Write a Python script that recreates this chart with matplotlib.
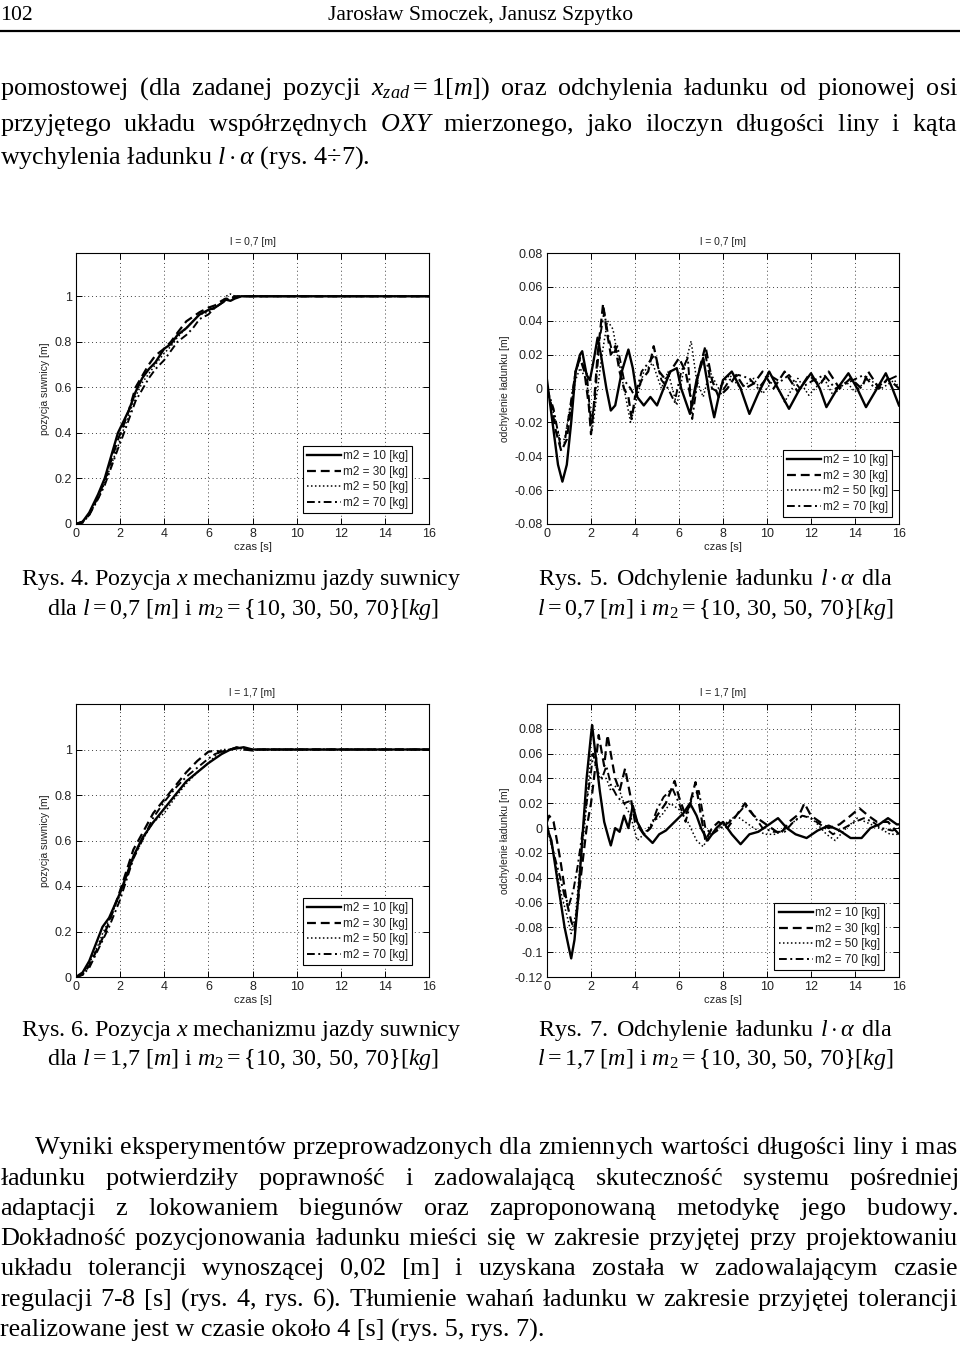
import matplotlib
matplotlib.use('Agg')
import matplotlib.pyplot as plt
from matplotlib.lines import Line2D
from matplotlib.ticker import FuncFormatter

# page size in pixels
W, H = 960, 1345

plt.rcParams['font.family'] = 'Liberation Serif'
plt.rcParams['mathtext.fontset'] = 'custom'
plt.rcParams['mathtext.rm'] = 'Liberation Serif'
plt.rcParams['mathtext.it'] = 'Liberation Serif:italic'
plt.rcParams['mathtext.bf'] = 'Liberation Serif:bold'

LABELS = ['m2 = 10 [kg]', 'm2 = 30 [kg]', 'm2 = 50 [kg]', 'm2 = 70 [kg]']

# --- Rys. 4: pozycja suwnicy, l = 0,7 m ---
T4 = [0, 0.3, 0.6, 1.0, 1.3, 1.6, 1.9, 2.1, 2.4, 2.7, 3.0, 3.3, 3.6, 4.0,
      4.3, 4.6, 5.0, 5.3, 5.6, 6.0, 6.3, 6.6, 6.8, 7.0, 7.2, 7.5, 8.0, 16]
X4_M10 = [0, 0.01, 0.05, 0.13, 0.20, 0.30, 0.40, 0.44, 0.50, 0.58, 0.64, 0.68, 0.71, 0.77,
          0.79, 0.83, 0.86, 0.89, 0.92, 0.94, 0.95, 0.97, 0.985, 0.98, 0.99, 1.0, 1.0, 1.0]
X4_M30 = [0, 0.01, 0.04, 0.12, 0.19, 0.28, 0.37, 0.42, 0.50, 0.60, 0.65, 0.70, 0.74, 0.77,
          0.80, 0.84, 0.89, 0.91, 0.93, 0.95, 0.96, 0.98, 0.99, 0.985, 1.0, 1.0, 1.0, 1.0]
X4_M50 = [0, 0.01, 0.04, 0.11, 0.18, 0.26, 0.34, 0.40, 0.48, 0.56, 0.62, 0.66, 0.70, 0.75,
          0.78, 0.82, 0.86, 0.89, 0.92, 0.93, 0.95, 0.97, 1.0, 1.01, 1.0, 1.0, 1.0, 1.0]
X4_M70 = [0, 0.005, 0.04, 0.11, 0.17, 0.25, 0.33, 0.38, 0.46, 0.54, 0.59, 0.64, 0.68, 0.72,
          0.76, 0.80, 0.83, 0.86, 0.90, 0.92, 0.95, 0.97, 0.98, 0.99, 0.995, 1.0, 1.0, 1.0]

# --- Rys. 6: pozycja suwnicy, l = 1,7 m ---
T6 = [0, 0.3, 0.6, 1.0, 1.2, 1.5, 2.0, 2.3, 2.6, 3.0, 3.5, 4.0, 4.5, 5.0,
      5.5, 6.0, 6.3, 6.6, 7.0, 7.3, 7.6, 8.0, 8.3, 16]
X6_M10 = [0, 0.02, 0.07, 0.17, 0.22, 0.26, 0.37, 0.45, 0.53, 0.61, 0.68, 0.74, 0.80, 0.86,
          0.90, 0.94, 0.96, 0.98, 1.0, 1.005, 1.01, 1.0, 1.0, 1.0]
X6_M30 = [0, 0.01, 0.05, 0.13, 0.17, 0.24, 0.38, 0.47, 0.56, 0.63, 0.72, 0.78, 0.84, 0.90,
          0.95, 0.99, 0.995, 0.99, 1.0, 1.01, 1.0, 1.0, 1.0, 1.0]
X6_M50 = [0, 0.01, 0.06, 0.14, 0.19, 0.25, 0.36, 0.44, 0.52, 0.60, 0.68, 0.72, 0.79, 0.85,
          0.90, 0.94, 0.97, 1.0, 1.0, 1.01, 1.005, 1.0, 1.0, 1.0]
X6_M70 = [0, 0.01, 0.04, 0.12, 0.16, 0.22, 0.34, 0.43, 0.52, 0.60, 0.70, 0.77, 0.83, 0.88,
          0.92, 0.96, 0.98, 0.99, 1.0, 1.01, 1.0, 0.995, 1.0, 1.0]

# --- Rys. 5: odchylenie ladunku, l = 0,7 m ---
T5_M10 = [0.0, 0.1, 0.3, 0.5, 0.7, 0.9, 1.1, 1.3, 1.5, 1.6, 1.8, 1.95, 2.1, 2.3, 2.45, 2.7,
          2.9, 3.1, 3.4, 3.7, 3.9, 4.1, 4.4, 4.7, 5.0, 5.3, 5.6, 5.9, 6.1, 6.5, 6.8, 7.1,
          7.4, 7.6, 7.8, 8.0, 8.4, 8.8, 9.2, 9.6, 10.1, 10.5, 11.0, 11.5, 12.0, 12.4, 12.7,
          13.2, 13.7, 14.1, 14.5, 15.0, 15.4, 15.7, 16.0]
A5_M10 = [0.005, -0.005, -0.025, -0.045, -0.055, -0.045, -0.02, 0.01, 0.02, 0.022, 0.008,
          0.005, 0.015, 0.03, 0.02, 0.0, -0.013, -0.01, 0.01, 0.023, 0.012, -0.005, -0.01,
          -0.005, -0.01, 0.0, 0.01, 0.012, 0.0, -0.015, 0.005, 0.018, -0.005, -0.017,
          -0.005, 0.005, 0.01, 0.0, -0.015, -0.003, 0.01, 0.0, -0.012, 0.0, 0.009, 0.0,
          -0.011, 0.0, 0.009, 0.0, -0.011, 0.0, 0.009, 0.0, -0.01]
T5_M30 = [0.0, 0.2, 0.4, 0.65, 0.9, 1.1, 1.3, 1.5, 1.7, 1.9, 2.0, 2.1, 2.3, 2.55, 2.7, 2.9,
          3.1, 3.3, 3.5, 3.7, 3.85, 4.0, 4.3, 4.6, 4.85, 5.1, 5.4, 5.7, 6.0, 6.3, 6.6, 6.9,
          7.2, 7.5, 7.8, 8.2, 8.6, 9.0, 9.4, 9.8, 10.3, 10.8, 11.4, 11.9, 12.4, 12.8, 13.3,
          13.8, 14.3, 14.6, 15.1, 15.5, 16.0]
A5_M30 = [0.0, -0.01, -0.025, -0.037, -0.03, -0.01, 0.01, 0.018, 0.01, -0.01, -0.027,
          -0.015, 0.02, 0.05, 0.035, 0.02, 0.025, 0.01, 0.0, -0.005, -0.018, -0.005, 0.005,
          0.01, 0.025, 0.01, 0.005, 0.012, 0.018, 0.01, -0.01, 0.01, 0.025, 0.005, -0.005,
          0.0, 0.008, 0.0, 0.003, 0.01, 0.0, 0.01, -0.002, 0.008, 0.002, 0.01, 0.0, 0.006,
          0.0, 0.01, 0.0, 0.006, 0.0]
T5_M50 = [0.0, 0.3, 0.6, 0.8, 1.0, 1.3, 1.5, 1.8, 2.05, 2.2, 2.5, 2.75, 3.0, 3.2, 3.5, 3.8,
          4.0, 4.4, 4.8, 5.2, 5.5, 5.9, 6.2, 6.55, 6.8, 7.1, 7.4, 7.8, 8.3, 8.8, 9.4, 9.8,
          10.3, 10.8, 11.4, 11.9, 12.6, 13.0, 13.6, 14.0, 14.6, 15.2, 15.8, 16.0]
A5_M50 = [0.0, -0.015, -0.03, -0.03, -0.015, 0.005, 0.012, 0.005, -0.025, -0.01, 0.02,
          0.04, 0.035, 0.02, 0.0, -0.02, -0.01, 0.01, 0.015, 0.0, 0.01, -0.01, 0.01, 0.028,
          0.005, -0.005, 0.01, 0.0, 0.008, 0.0, 0.006, -0.003, 0.005, -0.008, 0.006, -0.004,
          0.006, -0.004, 0.004, -0.002, 0.006, 0.0, 0.005, 0.0]
T5_M70 = [0.0, 0.3, 0.6, 0.8, 1.0, 1.3, 1.5, 1.8, 2.0, 2.15, 2.4, 2.6, 2.8, 3.0, 3.2, 3.5,
          3.8, 4.0, 4.3, 4.6, 4.9, 5.2, 5.5, 5.8, 6.1, 6.4, 6.6, 6.9, 7.2, 7.5, 7.9, 8.3,
          8.7, 9.2, 9.6, 10.1, 10.6, 11.0, 11.5, 12.0, 12.6, 13.1, 13.6, 14.4, 14.9, 15.5, 16.0]
A5_M70 = [0.0, -0.012, -0.033, -0.032, -0.015, 0.01, 0.017, 0.01, -0.02, -0.01, 0.03,
          0.045, 0.03, 0.02, 0.025, 0.005, 0.0, -0.005, 0.01, 0.015, 0.02, 0.005, 0.0,
          -0.008, 0.01, 0.018, -0.018, 0.01, 0.02, 0.0, -0.003, 0.005, 0.008, 0.006, 0.0,
          0.008, 0.004, 0.008, 0.0, 0.004, 0.008, 0.0, 0.003, 0.008, 0.0, 0.005, 0.008]

# --- Rys. 7: odchylenie ladunku, l = 1,7 m ---
T7_M10 = [0.0, 0.2, 0.5, 0.8, 1.0, 1.1, 1.25, 1.4, 1.6, 1.8, 2.0, 2.05, 2.2, 2.4, 2.6, 2.8,
          2.9, 3.1, 3.3, 3.5, 3.7, 3.9, 4.1, 4.4, 4.8, 5.1, 5.4, 5.8, 6.2, 6.5, 6.8, 7.0,
          7.3, 7.7, 8.0, 8.4, 8.8, 9.2, 9.6, 10.1, 10.5, 10.9, 11.3, 11.8, 12.3, 12.8, 13.3,
          13.8, 14.3, 14.7, 15.1, 15.5, 15.9, 16.0]
A7_M10 = [0.0, -0.01, -0.045, -0.08, -0.097, -0.105, -0.09, -0.06, -0.01, 0.04, 0.075,
          0.083, 0.06, 0.03, 0.005, -0.008, -0.014, 0.0, -0.003, 0.01, 0.0, 0.018, 0.005,
          -0.005, -0.012, -0.005, -0.002, 0.005, 0.012, 0.02, 0.01, 0.0, -0.01, 0.0, 0.005,
          -0.005, -0.013, -0.005, -0.003, 0.003, 0.008, 0.0, -0.005, -0.008, -0.002, 0.002,
          -0.002, -0.008, -0.008, 0.0, 0.003, 0.008, 0.003, 0.003]
T7_M30 = [0.0, 0.1, 0.3, 0.6, 0.9, 1.1, 1.25, 1.4, 1.6, 1.8, 2.0, 2.2, 2.35, 2.5, 2.6, 2.75,
          2.9, 3.1, 3.3, 3.55, 3.8, 4.0, 4.2, 4.4, 4.7, 5.0, 5.4, 5.8, 6.0, 6.3, 6.5, 6.75,
          7.0, 7.2, 7.5, 7.8, 8.2, 8.6, 9.0, 9.4, 9.8, 10.2, 10.6, 11.0, 11.5, 11.7, 12.0,
          12.4, 12.8, 13.3, 13.8, 14.2, 14.6, 15.0, 15.5, 16.0]
A7_M30 = [0.005, 0.01, 0.005, -0.025, -0.06, -0.075, -0.082, -0.06, -0.03, 0.0, 0.02, 0.05,
          0.075, 0.06, 0.05, 0.075, 0.06, 0.04, 0.03, 0.048, 0.025, 0.005, 0.0, -0.005, 0.0,
          0.01, 0.02, 0.038, 0.025, 0.01, 0.02, 0.037, 0.01, -0.01, 0.0, 0.005, 0.0, 0.01,
          0.02, 0.01, 0.005, 0.0, -0.005, 0.005, 0.012, 0.02, 0.01, 0.005, 0.0, 0.003, 0.01,
          0.016, 0.01, 0.005, 0.005, -0.005]
T7_M50 = [0.0, 0.3, 0.6, 0.9, 1.1, 1.3, 1.5, 1.7, 1.9, 2.0, 2.2, 2.4, 2.7, 2.9, 3.2, 3.5,
          3.8, 4.1, 4.4, 4.8, 5.2, 5.6, 6.0, 6.4, 6.8, 7.1, 7.4, 7.8, 8.2, 8.6, 9.0, 9.4,
          9.9, 10.4, 10.9, 11.4, 11.8, 12.2, 12.7, 13.1, 13.6, 14.1, 14.6, 15.1, 15.6, 16.0]
A7_M50 = [0.0, -0.02, -0.05, -0.07, -0.085, -0.07, -0.03, 0.0, 0.04, 0.06, 0.055, 0.04, 0.04,
          0.03, 0.035, 0.02, 0.01, -0.01, -0.005, 0.005, 0.01, 0.02, 0.015, 0.005, -0.01,
          -0.015, -0.005, 0.0, 0.005, 0.01, 0.005, 0.0, -0.005, -0.005, 0.0, 0.008, 0.01,
          0.005, -0.005, -0.01, 0.0, 0.008, 0.004, 0.0, -0.005, -0.005]
T7_M70 = [0.0, 0.3, 0.6, 0.8, 1.0, 1.2, 1.4, 1.6, 1.8, 2.0, 2.1, 2.3, 2.5, 2.7, 2.9, 3.2,
          3.5, 3.8, 4.1, 4.4, 4.7, 5.0, 5.3, 5.7, 6.0, 6.3, 6.6, 6.9, 7.2, 7.5, 7.9, 8.3,
          8.7, 9.0, 9.4, 9.8, 10.3, 10.8, 11.2, 11.6, 12.0, 12.5, 13.0, 13.5, 14.0, 14.4,
          14.8, 15.2, 15.7, 16.0]
A7_M70 = [0.003, -0.02, -0.04, -0.055, -0.062, -0.05, -0.03, -0.005, 0.02, 0.045, 0.06,
          0.045, 0.04, 0.05, 0.035, 0.025, 0.02, 0.022, 0.005, -0.005, 0.0, 0.015, 0.025,
          0.032, 0.02, 0.005, 0.025, 0.03, 0.0, -0.005, 0.0, 0.005, 0.012, 0.018, 0.01, 0.0,
          -0.003, -0.003, 0.005, 0.01, 0.008, 0.002, -0.005, 0.0, 0.005, 0.008, 0.005, 0.0,
          -0.002, 0.0]

# --- tekst strony ---
PARA1 = [
    r'pomostowej (dla zadanej pozycji $x_{zad}=1[m]$) oraz odchylenia ładunku od pionowej osi',
    r'przyjętego układu współrzędnych $OXY$ mierzonego, jako iloczyn długości liny i kąta',
    r'wychylenia ładunku $l\cdot\alpha$ (rys. 4÷7).',
]
PARA2 = [
    'Wyniki eksperymentów przeprowadzonych dla zmiennych wartości długości liny i mas',
    'ładunku potwierdziły poprawność i zadowalającą skuteczność systemu pośredniej',
    'adaptacji z lokowaniem biegunów oraz zaproponowaną metodykę jego budowy.',
    'Dokładność pozycjonowania ładunku mieści się w zakresie przyjętej przy projektowaniu',
    'układu tolerancji wynoszącej 0,02 [m] i uzyskana została w zadowalającym czasie',
    'regulacji 7-8 [s] (rys. 4, rys. 6). Tłumienie wahań ładunku w zakresie przyjętej tolerancji',
    'realizowane jest w czasie około 4 [s] (rys. 5, rys. 7).',
]
M2 = r'$m_2=\{10,\,30,\,50,\,70\}[kg]$'

fig = plt.figure(figsize=(W / 100, H / 100), dpi=100, facecolor='white')
renderer = fig.canvas.get_renderer()


def fx(x):
    return x / W


def fy(y):
    return 1 - y / H


def put(x, y, s, size, ha='left', **kw):
    # y is the baseline of the line, in page pixels
    return fig.text(fx(x), fy(y), s, fontsize=size, ha=ha, va='baseline',
                    color='black', **kw)


def width_of(s, size):
    t = put(0, 0, s, size)
    w = t.get_window_extent(renderer).width
    t.remove()
    return w


def justify(line, x0, x1, y, size):
    # one text per line; the gaps between words are mathtext \hspace kerns
    words = line.split(' ')
    unit = (width_of(r'm$\hspace{10}$m', size) - width_of(r'm$\hspace{0}$m', size)) / 10
    base = width_of(r'$\hspace{0}$'.join(words), size)
    gap = (x1 - x0 - base) / (len(words) - 1) / unit
    put(x0, y, (r'$\hspace{%.4f}$' % gap).join(words), size)


# font sizes chosen so the lines get the widths seen on the page
FS = 16 * 442 / width_of('Rys. 4. Pozycja $x$ mechanizmu jazdy suwnicy', 16)
FB = 16 * 545 / width_of(PARA2[-1], 16)
FH = 16 * 306 / width_of('Jarosław Smoczek, Janusz Szpytko', 16)

# naglowek
put(0, 20, '102', FH)
put(481, 20, 'Jarosław Smoczek, Janusz Szpytko', FH, ha='center')
fig.add_artist(Line2D([0, 1], [fy(31), fy(31)], transform=fig.transFigure,
                      color='black', lw=1.6))

for i, (line, y) in enumerate(zip(PARA1, [95, 131, 164])):
    if i < len(PARA1) - 1:
        justify(line, 0, 958, y, FB)
    else:
        put(0, y, line, FB)

for i, (line, y) in enumerate(zip(PARA2, [1154, 1185, 1215, 1245, 1275, 1306, 1337])):
    x0 = 34 if i == 0 else 0
    if i < len(PARA2) - 1:
        justify(line, x0, 958, y, FB)
    else:
        put(x0, y, line, FB)

# podpisy rysunkow
put(241, 585, 'Rys. 4. Pozycja $x$ mechanizmu jazdy suwnicy', FS, ha='center')
put(243, 615, r'dla $l=0{,}7\ [m]$ i ' + M2, FS, ha='center')
justify(r'Rys. 5. Odchylenie ładunku $l\cdot\alpha$ dla', 538, 893, 585, FS)
put(715, 615, r'$l=0{,}7\ [m]$ i ' + M2, FS, ha='center')
put(241, 1036, 'Rys. 6. Pozycja $x$ mechanizmu jazdy suwnicy', FS, ha='center')
put(243, 1065, r'dla $l=1{,}7\ [m]$ i ' + M2, FS, ha='center')
justify(r'Rys. 7. Odchylenie ładunku $l\cdot\alpha$ dla', 538, 893, 1036, FS)
put(715, 1065, r'$l=1{,}7\ [m]$ i ' + M2, FS, ha='center')

STYLES = ['-', (0, (4, 2.2)), (0, (1, 1.6)), (0, (4, 1.8, 1, 1.8))]
WIDTHS = [1.7, 1.6, 1.1, 1.4]
SANS = 'Liberation Sans'


def chart(box, title, ylabel, ylim, yticks, series, anchor):
    left, top, right, bottom = box
    ax = fig.add_axes([fx(left), fy(bottom), (right - left) / W, (bottom - top) / H])
    for (tt, yy), lab, st, lw in zip(series, LABELS, STYLES, WIDTHS):
        ax.plot(tt, yy, color='black', linestyle=st, lw=lw, label=lab)
    ax.set_xlim(0, 16)
    ax.set_ylim(*ylim)
    ax.set_xticks(range(0, 17, 2))
    ax.set_yticks(yticks)
    ax.yaxis.set_major_formatter(FuncFormatter(lambda v, p: '%g' % round(v, 4)))
    ax.grid(True, linestyle=(0, (1, 3)), color='black', lw=0.7, alpha=0.75)
    ax.tick_params(direction='in', length=4, width=0.7, top=True, right=True,
                   labelsize=9, labelcolor='#222222', pad=3)
    for lbl in ax.get_xticklabels() + ax.get_yticklabels():
        lbl.set_family(SANS)
    for sp in ax.spines.values():
        sp.set_linewidth(0.8)
    ax.set_title(title, fontsize=7.5, family=SANS, color='#222222', pad=6)
    ax.set_xlabel('czas [s]', fontsize=8, family=SANS, color='#222222', labelpad=1)
    ax.set_ylabel(ylabel, fontsize=7.5, family=SANS, color='#222222', labelpad=3)
    leg = ax.legend(loc='lower right', bbox_to_anchor=anchor, borderaxespad=0,
                    prop={'family': SANS, 'size': 8.5}, handlelength=2.9,
                    handletextpad=0.15, borderpad=0.35, labelspacing=0.3,
                    fancybox=False, framealpha=1, edgecolor='black')
    leg.get_frame().set_linewidth(0.8)
    for txt in leg.get_texts():
        txt.set_color('#222222')
    return ax


chart((76, 253, 429, 524), 'l = 0,7 [m]', 'pozycja suwnicy [m]', (0, 1.19),
      [0, 0.2, 0.4, 0.6, 0.8, 1],
      [(T4, X4_M10), (T4, X4_M30), (T4, X4_M50), (T4, X4_M70)], (0.952, 0.041))
chart((547, 253, 899, 524), 'l = 0,7 [m]', 'odchylenie ładunku [m]', (-0.08, 0.08),
      [-0.08, -0.06, -0.04, -0.02, 0, 0.02, 0.04, 0.06, 0.08],
      [(T5_M10, A5_M10), (T5_M30, A5_M30), (T5_M50, A5_M50), (T5_M70, A5_M70)],
      (0.980, 0.026))
chart((76, 704, 429, 977), 'l = 1,7 [m]', 'pozycja suwnicy [m]', (0, 1.2),
      [0, 0.2, 0.4, 0.6, 0.8, 1],
      [(T6, X6_M10), (T6, X6_M30), (T6, X6_M50), (T6, X6_M70)], (0.952, 0.044))
chart((547, 704, 899, 977), 'l = 1,7 [m]', 'odchylenie ładunku [m]', (-0.12, 0.1),
      [-0.12, -0.1, -0.08, -0.06, -0.04, -0.02, 0, 0.02, 0.04, 0.06, 0.08],
      [(T7_M10, A7_M10), (T7_M30, A7_M30), (T7_M50, A7_M50), (T7_M70, A7_M70)],
      (0.957, 0.026))

fig.savefig('out.png', dpi=100, facecolor='white')
